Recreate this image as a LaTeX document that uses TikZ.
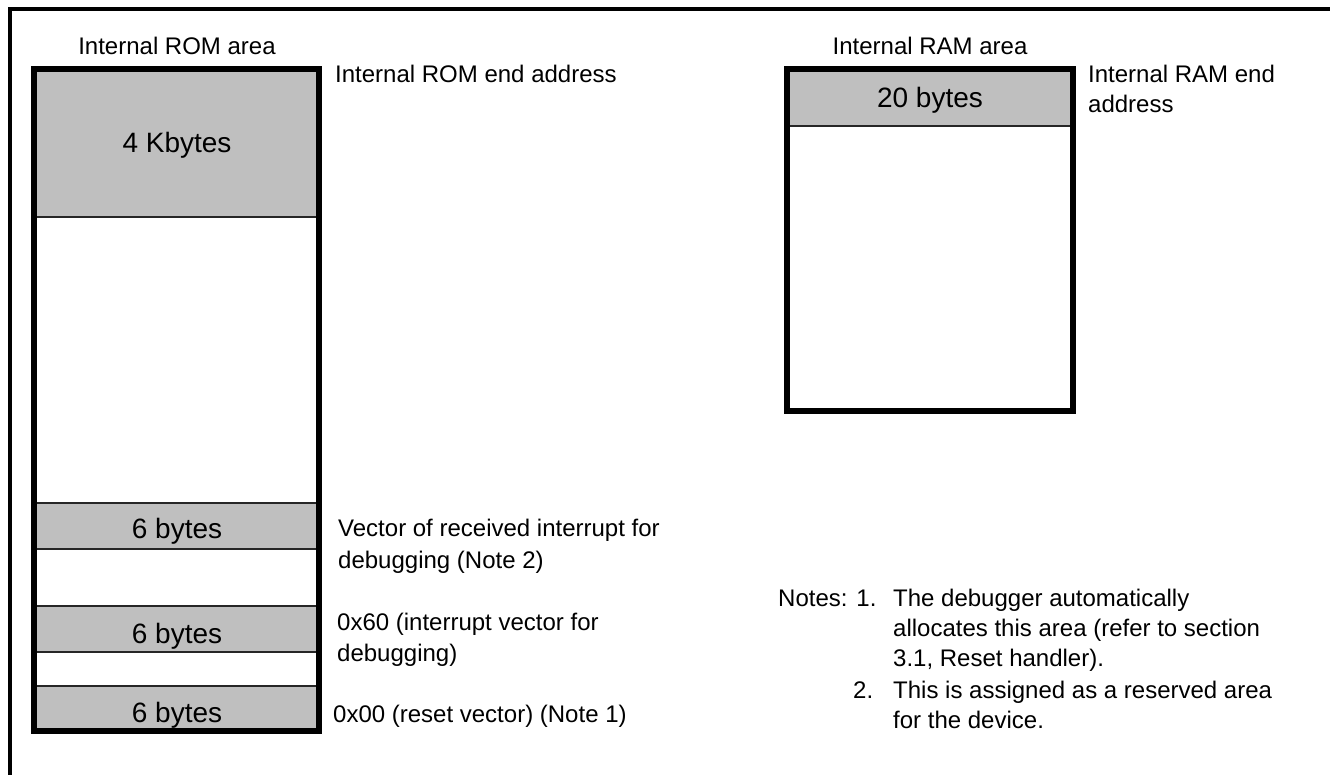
\documentclass[tikz,border=0pt]{standalone}
\usepackage{fontspec}
\setmainfont{Liberation Sans}
\begin{document}
\begin{tikzpicture}[x=1pt,y=-1pt,
  frame/.style={line width=4pt},
  membox/.style={line width=6pt},
  divider/.style={line width=1.5pt, draw=black!85},
  grayarea/.style={fill=black!25},
  lbl/.style={inner sep=0pt, anchor=base west, font=\fontsize{24}{30}\selectfont},
  clbl/.style={inner sep=0pt, anchor=base, font=\fontsize{24}{30}\selectfont},
  big/.style={inner sep=0pt, anchor=base, font=\fontsize{28}{34}\selectfont}]
\useasboundingbox (0,0) rectangle (1330,775);
% outer frame (top and left only)
\draw[frame] (10,775) -- (10,9) -- (1330,9);
% ROM area
\fill[grayarea] (34,69) rectangle (319,217);
\fill[grayarea] (34,503) rectangle (319,549);
\fill[grayarea] (34,606) rectangle (319,652);
\fill[grayarea] (34,686) rectangle (319,731);
\draw[divider] (34,217) -- (319,217);
\draw[divider] (34,503) -- (319,503);
\draw[divider] (34,549) -- (319,549);
\draw[divider] (34,606) -- (319,606);
\draw[divider] (34,652) -- (319,652);
\draw[divider] (34,686) -- (319,686);
\draw[membox] (34,69) rectangle (319,731);
% RAM area
\fill[grayarea] (787,69) rectangle (1073,126);
\draw[divider] (787,126) -- (1073,126);
\draw[membox] (787,69) rectangle (1073,411);
% texts
\node[clbl] (romtitle) at (177,55) {Internal ROM area};
\node[big] (kb) at (177,153) {4 Kbytes};
\node[lbl] (romend) at (335,83) {Internal ROM end address};
\node[big] (b1) at (177,538) {6 bytes};
\node[big] (b2) at (177,643) {6 bytes};
\node[big] (b3) at (177,722) {6 bytes};
\node[lbl] (v1a) at (338,536) {Vector of received interrupt for};
\node[lbl] (v1b) at (338,568) {debugging (Note 2)};
\node[lbl] (v2a) at (337,630) {0x60 (interrupt vector for};
\node[lbl] (v2b) at (337,661) {debugging)};
\node[lbl] (v3) at (333,722) {0x00 (reset vector) (Note 1)};
\node[clbl] (ramtitle) at (930,55) {Internal RAM area};
\node[big] (b20) at (930,108) {20 bytes};
\node[lbl] (ramenda) at (1088,83) {Internal RAM end};
\node[lbl] (ramendb) at (1088,113) {address};
\node[lbl] (n0) at (778,606) {Notes: 1.};
\node[lbl] (n1a) at (893,606) {The debugger automatically};
\node[lbl] (n1b) at (893,636) {allocates this area (refer to section};
\node[lbl] (n1c) at (893,666) {3.1, Reset handler).};
\node[lbl] (n2) at (853,698) {2.};
\node[lbl] (n2a) at (893,698) {This is assigned as a reserved area};
\node[lbl] (n2b) at (893,728) {for the device.};
\end{tikzpicture}
\end{document}
